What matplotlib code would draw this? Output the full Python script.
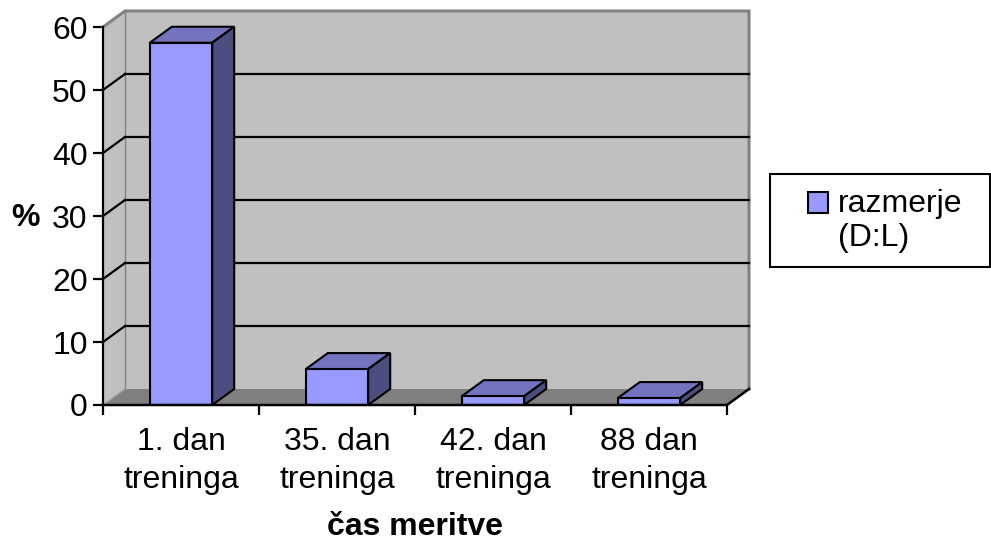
import numpy as np
import matplotlib
matplotlib.use("Agg")
import matplotlib.pyplot as plt
from matplotlib.patches import Polygon, Patch, Rectangle
from matplotlib.legend_handler import HandlerPatch

plt.rcParams['font.family'] = ['Liberation Sans', 'DejaVu Sans']

categories = ['1. dan\ntreninga', '35. dan\ntreninga', '42. dan\ntreninga', '88 dan\ntreninga']
values = [57.5, 5.7, 1.4, 1.1]
series_name = 'razmerje\n(D:L)'
yticks = [0, 10, 20, 30, 40, 50, 60]

# fake 3d depth, in data units
DX = 0.141
DY = 2.54
half_w = 0.2
ymax = 60
n = len(categories)
fs = 23

front_col = '#9999FF'
top_col = '#7373BF'
side_col = '#4D4D80'
wall_col = '#C0C0C0'
floor_col = '#808080'

fig = plt.figure(figsize=(9.91, 5.47), dpi=100)
ax = fig.add_axes([103/991, (547-405)/547, 4.2*156/991, 63*6.3/547])
ax.set_xlim(0, 4.2)
ax.set_ylim(0, 63)
for s in ax.spines.values():
    s.set_visible(False)
ax.patch.set_visible(False)

# walls and floor
ax.add_patch(Polygon([(DX, DY), (n+DX, DY), (n+DX, ymax+DY), (DX, ymax+DY)],
                     closed=True, fc=wall_col, ec='none', zorder=1))
ax.add_patch(Polygon([(0, 0), (DX, DY), (DX, ymax+DY), (0, ymax)],
                     closed=True, fc=wall_col, ec='none', zorder=1))
ax.add_patch(Polygon([(0, 0), (n, 0), (n+DX, DY), (DX, DY)],
                     closed=True, fc=floor_col, ec='none', zorder=1))
# wall borders
ax.plot([0, DX, n+DX, n+DX], [ymax, ymax+DY, ymax+DY, DY], color='#808080', lw=2.2, zorder=2,
        clip_on=False, solid_joinstyle='miter')
ax.plot([DX, DX], [DY, ymax+DY], color='#808080', lw=1, zorder=2)
ax.plot([0, DX], [0, DY], color='#A0A0A0', lw=1, zorder=2)

# gridlines on back wall and side wall
for yv in yticks[1:-1]:
    ax.plot([DX, n+DX], [yv+DY, yv+DY], color='black', lw=1.6, zorder=2)
    ax.plot([0, DX], [yv, yv+DY], color='black', lw=1.6, zorder=2)

# bars
for i, v in enumerate(values):
    c = i + 0.5
    x0, x1 = c - half_w, c + half_w
    ax.add_patch(Polygon([(x0, v), (x1, v), (x1+DX, v+DY), (x0+DX, v+DY)],
                         closed=True, fc=top_col, ec='black', lw=1.5, zorder=3))
    ax.add_patch(Polygon([(x1, 0), (x1+DX, DY), (x1+DX, v+DY), (x1, v)],
                         closed=True, fc=side_col, ec='black', lw=1.5, zorder=3))
    ax.add_patch(Polygon([(x0, 0), (x1, 0), (x1, v), (x0, v)],
                         closed=True, fc=front_col, ec='black', lw=1.5, zorder=4))

# axis lines
ax.plot([0, 0], [0, ymax], color='black', lw=1.6, zorder=5, clip_on=False)
ax.plot([0, n, n+DX], [0, 0, DY], color='black', lw=1.8, zorder=5, clip_on=False)

ax.set_yticks(yticks)
ax.set_yticklabels([str(t) for t in yticks], fontsize=fs)
ax.tick_params(axis='y', length=7, width=1.6, pad=4)

ax.set_xticks(np.arange(n+1))
ax.set_xticklabels([])
ax.tick_params(axis='x', which='major', length=7, width=1.6)
ax.set_xticks(np.arange(n) + 0.5, minor=True)
ax.set_xticklabels(categories, minor=True, fontsize=fs, linespacing=1.33)
ax.tick_params(axis='x', which='minor', length=0, pad=16)

ax.set_xlabel('čas meritve', fontsize=fs, fontweight='bold', va='center')
ax.xaxis.set_label_coords((415-103)/655.2, (405-527)/396.9)
ax.set_ylabel('%', fontsize=fs, fontweight='bold', rotation=0, va='center', ha='center')
ax.yaxis.set_label_coords((26-103)/655.2, (405-218)/396.9)


# legend: square sits next to the first line of the label
def top_square(legend, orig_handle, xdescent, ydescent, width, height, fontsize):
    return Rectangle((-xdescent, -ydescent + 0.6*fontsize), width, height)


fig.patches.append(Rectangle((770/991, 1-267/547), 220/991, 93/547, transform=fig.transFigure,
                             fc='white', ec='black', lw=1.5, zorder=0))
handle = Patch(fc=front_col, ec='black', lw=1.5)
leg = fig.legend([handle], [series_name], loc='center left', frameon=False,
                 bbox_to_anchor=(808/991, 1-221/547), fontsize=fs,
                 handlelength=0.63, handleheight=0.63, handletextpad=0.31,
                 borderpad=0, borderaxespad=0,
                 handler_map={Patch: HandlerPatch(patch_func=top_square)})

fig.savefig('out.png', dpi=100)
